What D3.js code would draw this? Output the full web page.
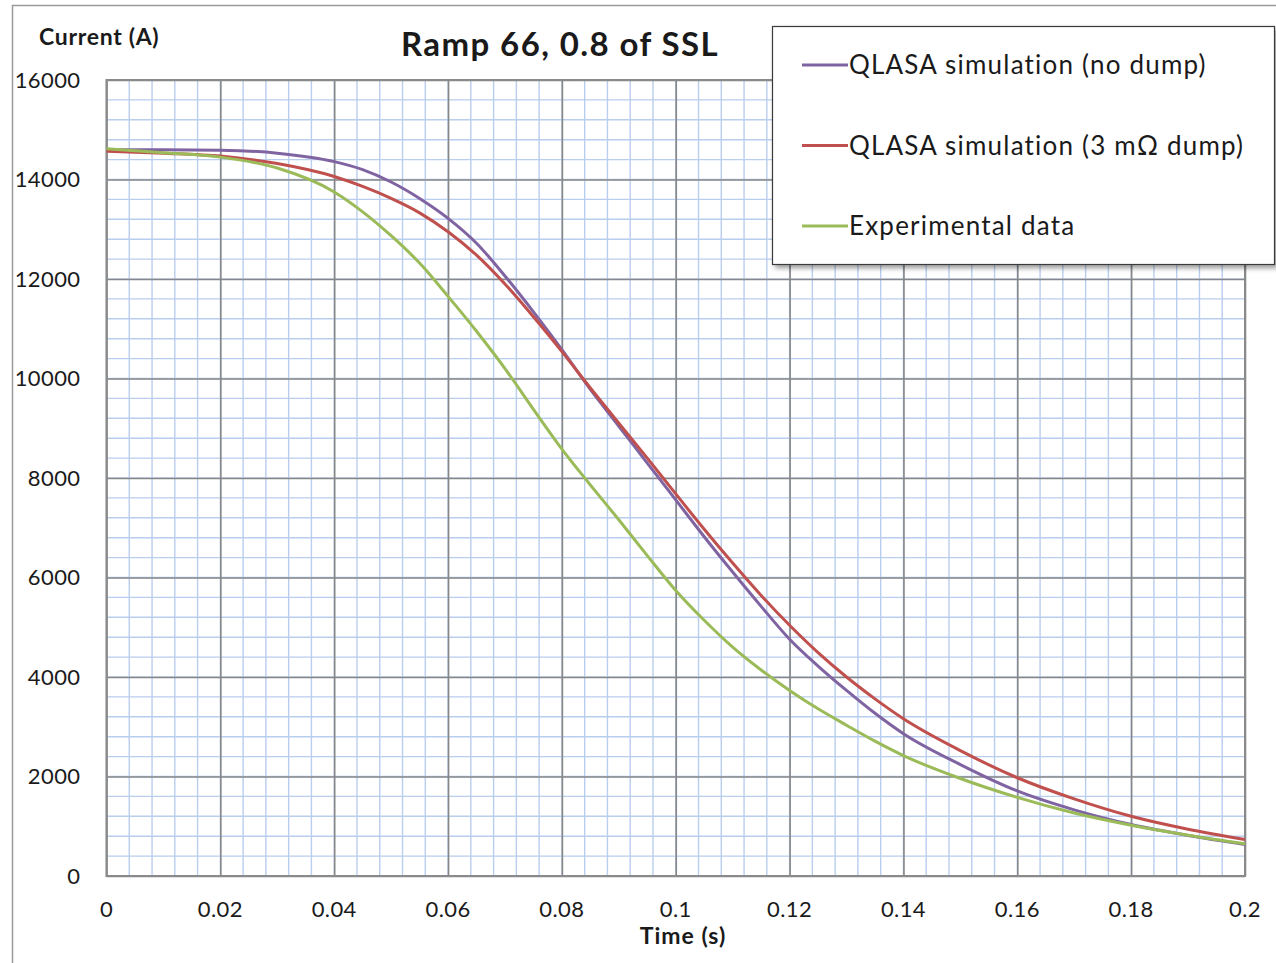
<!DOCTYPE html>
<html>
<head>
<meta charset="utf-8">
<script src="https://cdn.jsdelivr.net/npm/d3@7"></script>
<style>
    body { margin: 0; background: #fff; }
    text { font-family: Lato, "Open Sans", sans-serif; fill: #1a1a1a; }
</style>
</head>
<body>
<div id="chart"></div>
<script>
var timeS = [0, 0.01, 0.02, 0.03, 0.04, 0.045, 0.05, 0.055, 0.06, 0.065, 0.07, 0.075, 0.08, 0.085,
    0.09, 0.095, 0.1, 0.105, 0.11, 0.115, 0.12, 0.125, 0.13, 0.135, 0.14, 0.15, 0.16, 0.17, 0.18, 0.19, 0.2];
var noDump = [14600, 14600, 14590, 14530, 14360, 14200, 13950, 13620, 13220, 12720, 12060, 11340, 10580, 9780,
    9040, 8300, 7560, 6820, 6110, 5420, 4760, 4220, 3730, 3270, 2860, 2240, 1710, 1330, 1035, 815, 635];
var dump3 = [14570, 14530, 14470, 14320, 14060, 13860, 13620, 13330, 12950, 12480, 11900, 11240, 10540, 9810,
    9100, 8400, 7680, 6970, 6290, 5640, 5040, 4490, 4000, 3560, 3160, 2520, 1975, 1550, 1200, 940, 735];
var experimental = [14620, 14540, 14450, 14230, 13750, 13350, 12870, 12320, 11650, 10950, 10200, 9380, 8580, 7860,
    7160, 6440, 5740, 5140, 4600, 4140, 3730, 3360, 3030, 2710, 2420, 1960, 1580, 1265, 1020, 820, 650];
var xTicks = [0, 0.02, 0.04, 0.06, 0.08, 0.1, 0.12, 0.14, 0.16, 0.18, 0.2];
var yTicks = [0, 2000, 4000, 6000, 8000, 10000, 12000, 14000, 16000];
var seriesNames = ["QLASA simulation (no dump)", "QLASA simulation (3 m\u03A9 dump)", "Experimental data"];
var seriesColors = ["#8064a2", "#c0504d", "#9bbb59"];

var outwidth = 1276,
    outheight = 963;
var margin = { left: 106.5, top: 80, right: 31, bottom: 87 };
var width = outwidth - margin.left - margin.right;
var height = outheight - margin.top - margin.bottom;

var svg = d3.select("#chart")
    .append("svg")
    .attr("width", outwidth)
    .attr("height", outheight);

var defs = svg.append("defs");
var shadow = defs.append("filter").attr("id", "shadow")
    .attr("x", "-5%").attr("y", "-5%").attr("width", "115%").attr("height", "120%");
shadow.append("feDropShadow")
    .attr("dx", 3).attr("dy", 3).attr("stdDeviation", 2.5)
    .attr("flood-color", "#000").attr("flood-opacity", 0.4);

// outer chart border
svg.append("rect")
    .attr("x", 12.5).attr("y", 5.5)
    .attr("width", 1300).attr("height", 1000)
    .attr("fill", "none")
    .attr("stroke", "#9a9a9a")
    .attr("stroke-width", 1.5);

var g = svg.append("g")
    .attr("transform", `translate(${margin.left},${margin.top})`);

var x = d3.scaleLinear().domain([0, 0.2]).range([0, width]);
var y = d3.scaleLinear().domain([0, 16000]).range([height, 0]);

// minor grid (5 per major)
var xMinor = d3.range(0, 51).map(d => d * 0.004);
var yMinor = d3.range(0, 41).map(d => d * 400);

g.append("g").attr("class", "minor-x")
    .selectAll("line")
    .data(xMinor)
    .join("line")
    .attr("x1", d => x(d)).attr("x2", d => x(d))
    .attr("y1", 0).attr("y2", height)
    .attr("stroke", "#b9cdee")
    .attr("stroke-width", 1.4);
g.append("g").attr("class", "minor-y")
    .selectAll("line")
    .data(yMinor)
    .join("line")
    .attr("x1", 0).attr("x2", width)
    .attr("y1", d => y(d)).attr("y2", d => y(d))
    .attr("stroke", "#b9cdee")
    .attr("stroke-width", 1.4);

// major grid via axes
var xGrid = g.append("g")
    .attr("transform", `translate(0,${height})`)
    .call(d3.axisBottom(x).tickValues(xTicks).tickSizeInner(-height).tickSizeOuter(0).tickFormat(""));
var yGrid = g.append("g")
    .call(d3.axisLeft(y).tickValues(yTicks).tickSizeInner(-width).tickSizeOuter(0).tickFormat(""));
[xGrid, yGrid].forEach(function (a) {
    a.select(".domain").remove();
    a.selectAll("line").attr("stroke", "#878787").attr("stroke-width", 1.6);
});

// plot border
g.append("rect")
    .attr("width", width).attr("height", height)
    .attr("fill", "none")
    .attr("stroke", "#8a8a8a")
    .attr("stroke-width", 2);

// tick labels
g.append("g").selectAll("text")
    .data(yTicks)
    .join("text")
    .attr("x", -26)
    .attr("y", d => y(d))
    .attr("dy", "0.36em")
    .attr("text-anchor", "end")
    .style("font-size", "22px")
    .style("letter-spacing", "0.4px")
    .text(d => d);
g.append("g").selectAll("text")
    .data(xTicks)
    .join("text")
    .attr("x", d => x(d))
    .attr("y", height + 33)
    .attr("dy", "0.36em")
    .attr("text-anchor", "middle")
    .style("font-size", "22px")
    .style("letter-spacing", "0.4px")
    .text(d => d);

// lines
var allSeries = [noDump, dump3, experimental];
var line = d3.line()
    .x((d, i) => x(timeS[i]))
    .y(d => y(d))
    .curve(d3.curveMonotoneX);
g.append("g").selectAll("path")
    .data(allSeries)
    .join("path")
    .attr("fill", "none")
    .attr("stroke", (d, i) => seriesColors[i])
    .attr("stroke-width", 3)
    .attr("stroke-linejoin", "round")
    .attr("d", line);

// titles
svg.append("text")
    .attr("x", 560).attr("y", 56)
    .attr("text-anchor", "middle")
    .style("font-size", "33px")
    .style("font-weight", "bold")
    .style("letter-spacing", "1.4px")
    .text("Ramp 66, 0.8 of SSL");
svg.append("text")
    .attr("x", 39).attr("y", 45)
    .style("font-size", "23px")
    .style("font-weight", "bold")
    .style("letter-spacing", "0.7px")
    .text("Current (A)");
svg.append("text")
    .attr("x", 683).attr("y", 944)
    .attr("text-anchor", "middle")
    .style("font-size", "23px")
    .style("font-weight", "bold")
    .style("letter-spacing", "1px")
    .text("Time (s)");

// legend
var legend = svg.append("g").attr("class", "legend");
legend.append("rect")
    .attr("x", 772.5).attr("y", 26.5)
    .attr("width", 502).attr("height", 238)
    .attr("fill", "#fff")
    .attr("stroke", "#3a3a3a")
    .attr("stroke-width", 1.2)
    .attr("filter", "url(#shadow)");
var items = legend.selectAll(".legend-item")
    .data(seriesNames)
    .join("g")
    .attr("class", "legend-item")
    .attr("transform", (d, i) => `translate(802,${65 + i * 80.5})`);
items.append("line")
    .attr("x1", 0).attr("x2", 46)
    .attr("stroke", (d, i) => seriesColors[i])
    .attr("stroke-width", 3);
items.append("text")
    .attr("x", 47)
    .attr("dy", "0.35em")
    .style("font-size", "26px")
    .style("letter-spacing", "1.2px")
    .text(d => d);
</script>
</body>
</html>
